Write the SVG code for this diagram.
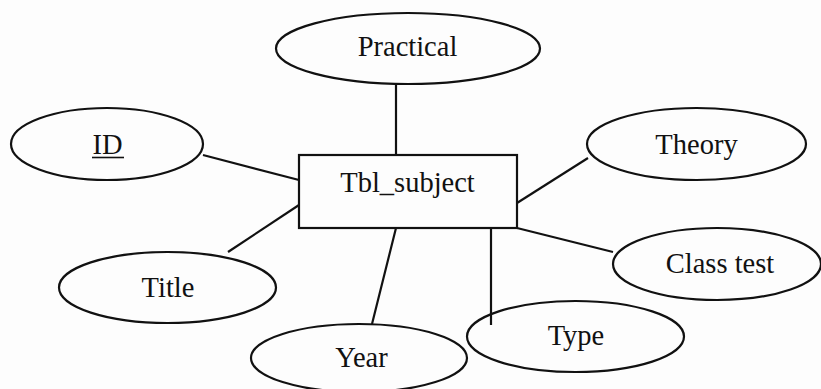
<svg xmlns="http://www.w3.org/2000/svg" width="821" height="389" viewBox="0 0 821 389">
  <style>
    .shape { fill: none; stroke: #111; stroke-width: 2.2; }
    .link { stroke: #111; stroke-width: 2.2; fill: none; }
    .label { font-family: "Liberation Serif", "Times New Roman", serif; font-size: 28.5px; fill: #111; text-anchor: middle; }
  </style>
  <rect width="821" height="389" fill="#fdfdfd"/>

  <!-- connectors from entity to attributes -->
  <g id="connectors">
    <line class="link" x1="396" y1="84" x2="396" y2="155"/>
    <line class="link" x1="203" y1="155" x2="299" y2="180"/>
    <line class="link" x1="517" y1="203" x2="588" y2="158"/>
    <line class="link" x1="228" y1="252" x2="299" y2="205"/>
    <line class="link" x1="396" y1="228" x2="372" y2="324"/>
    <line class="link" x1="491" y1="228" x2="491" y2="325"/>
    <line class="link" x1="517" y1="228" x2="613" y2="252"/>
  </g>

  <!-- entity -->
  <g id="tbl_subject">
    <rect class="shape" x="299" y="155" width="218" height="73"/>
    <text class="label" x="407.5" y="192">Tbl_subject</text>
  </g>

  <!-- attributes -->
  <g id="practical">
    <ellipse class="shape" cx="408" cy="48.5" rx="132" ry="35.5"/>
    <text class="label" x="407.5" y="56">Practical</text>
  </g>
  <g id="id">
    <ellipse class="shape" cx="107" cy="144" rx="96" ry="36"/>
    <text class="label" x="107.5" y="154">ID</text>
    <line x1="92" y1="157.5" x2="124" y2="157.5" stroke="#111" stroke-width="1.6"/>
  </g>
  <g id="theory">
    <ellipse class="shape" cx="696.5" cy="144" rx="109.5" ry="36"/>
    <text class="label" x="696.5" y="154">Theory</text>
  </g>
  <g id="title">
    <ellipse class="shape" cx="167.5" cy="287.5" rx="108.5" ry="35.5"/>
    <text class="label" x="168" y="297">Title</text>
  </g>
  <g id="class_test">
    <ellipse class="shape" cx="717" cy="264" rx="104" ry="36"/>
    <text class="label" x="720" y="273">Class test</text>
  </g>
  <g id="type">
    <ellipse class="shape" cx="575.5" cy="336.5" rx="108.5" ry="35.5"/>
    <text class="label" x="576" y="345">Type</text>
  </g>
  <g id="year">
    <ellipse class="shape" cx="359" cy="358" rx="108" ry="34"/>
    <text class="label" x="361.5" y="367">Year</text>
  </g>
</svg>
